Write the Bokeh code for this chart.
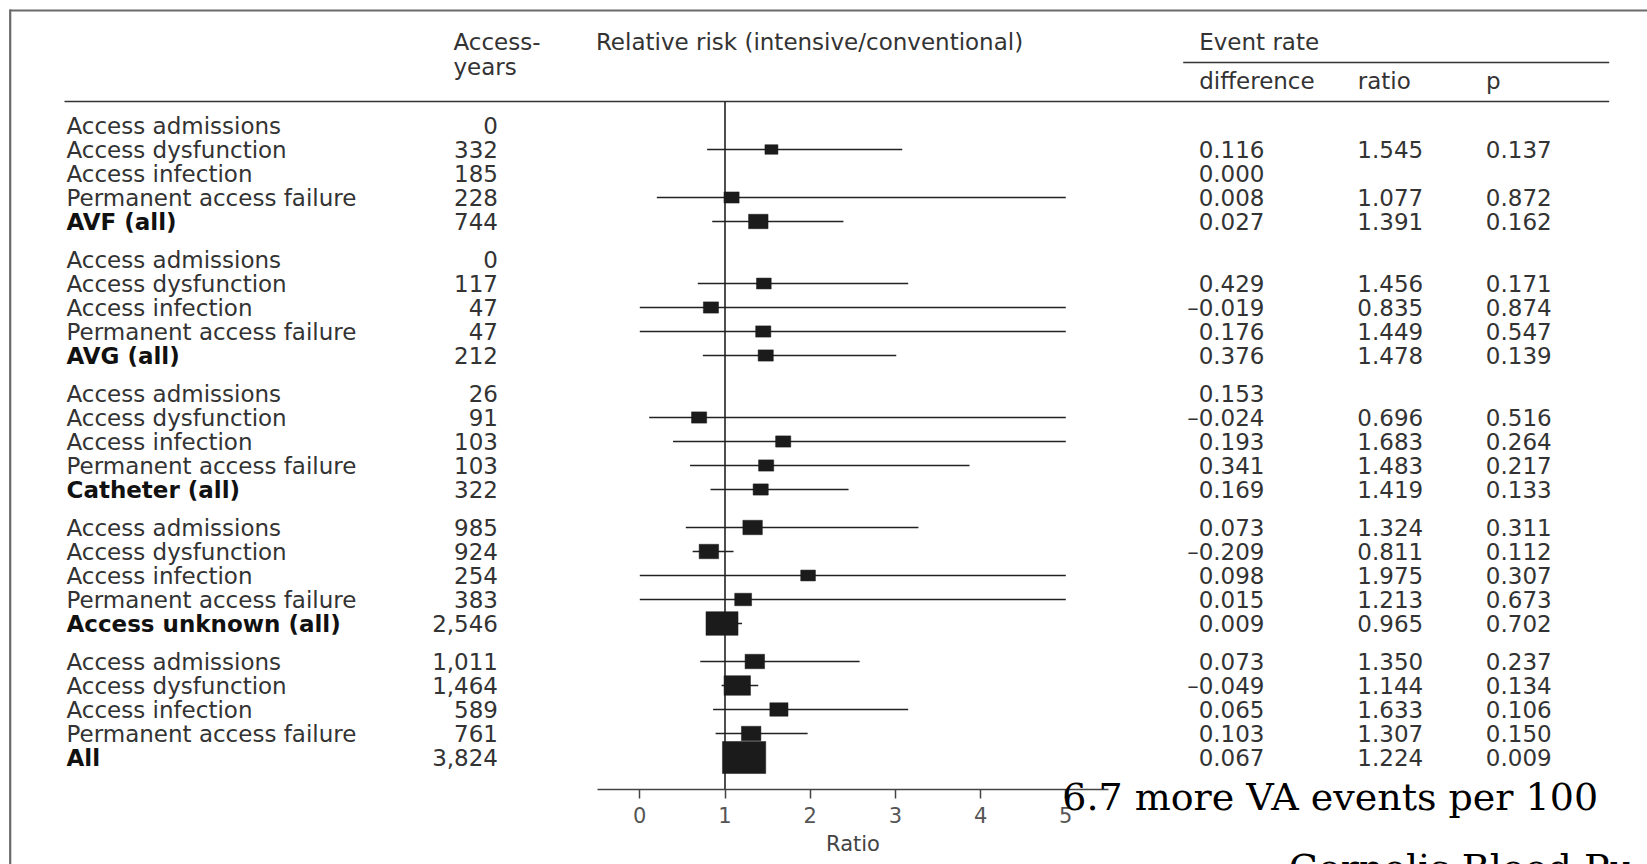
from bokeh.plotting import figure
from bokeh.models import Range1d, LinearAxis, FixedTicker, Label, BoxAnnotation, ColumnDataSource
from bokeh.core.properties import value
from bokeh.embed import file_html
from bokeh.resources import INLINE

# ------------------------------------------------------------------ data
group_names = ["AVF", "AVG", "Catheter", "Access unknown", "All"]
outcome_labels = ["Access admissions", "Access dysfunction", "Access infection",
                  "Permanent access failure"]
summary_labels = ["AVF (all)", "AVG (all)", "Catheter (all)", "Access unknown (all)", "All"]

access_years = ["0", "332", "185", "228", "744",
                "0", "117", "47", "47", "212",
                "26", "91", "103", "103", "322",
                "985", "924", "254", "383", "2,546",
                "1,011", "1,464", "589", "761", "3,824"]
rate_difference = ["", "0.116", "0.000", "0.008", "0.027",
                   "", "0.429", "\u20130.019", "0.176", "0.376",
                   "0.153", "\u20130.024", "0.193", "0.341", "0.169",
                   "0.073", "\u20130.209", "0.098", "0.015", "0.009",
                   "0.073", "\u20130.049", "0.065", "0.103", "0.067"]
rate_ratio = ["", "1.545", "", "1.077", "1.391",
              "", "1.456", "0.835", "1.449", "1.478",
              "", "0.696", "1.683", "1.483", "1.419",
              "1.324", "0.811", "1.975", "1.213", "0.965",
              "1.350", "1.144", "1.633", "1.307", "1.224"]
p_value = ["", "0.137", "", "0.872", "0.162",
           "", "0.171", "0.874", "0.547", "0.139",
           "", "0.516", "0.264", "0.217", "0.133",
           "0.311", "0.112", "0.307", "0.673", "0.702",
           "0.237", "0.134", "0.106", "0.150", "0.009"]
ci_lower = [None, 0.79, None, 0.20, 0.85,
            None, 0.68, 0.0, 0.0, 0.74,
            None, 0.11, 0.39, 0.59, 0.83,
            0.54, 0.62, 0.0, 0.0, 0.78,
            0.71, 0.96, 0.86, 0.89, 1.05]
ci_upper = [None, 3.08, None, 5.0, 2.39,
            None, 3.15, 5.0, 5.0, 3.01,
            None, 5.0, 5.0, 3.87, 2.45,
            3.27, 1.10, 5.0, 5.0, 1.20,
            2.58, 1.39, 3.15, 1.97, 1.43]
weight = [None, 30, None, 35, 45,
          None, 34, 35, 35, 35,
          None, 35, 35, 35, 35,
          45, 45, 34, 39, 74,
          45, 61, 42, 45, 100]
axis_ticks = [0, 1, 2, 3, 4, 5]

# ------------------------------------------------------------------ layout helpers
W, H = 1647, 864
PX_PER_UNIT = 85.2      # screen px per ratio unit
X_ZERO = 639.3          # screen px of ratio 0
ROW_PX = 24.0
ROW0 = 125.0
AXIS_Y = 789.0
GROUP_STRIDE = 134.0 / ROW_PX


def X(px):
    return (px - X_ZERO) / PX_PER_UNIT


def Y(py):
    return (py - ROW0) / ROW_PX


labels, bold, ypos = [], [], []
for g in range(len(group_names)):
    for i in range(5):
        labels.append(outcome_labels[i] if i < 4 else summary_labels[g])
        bold.append(i == 4)
        ypos.append(g * GROUP_STRIDE + i)

p = figure(width=W, height=H, output_backend="svg", toolbar_location=None,
           x_range=Range1d(X(0), X(W)), y_range=Range1d(Y(H), Y(0)),
           x_axis_type=None, y_axis_type=None,
           min_border_left=0, min_border_right=0, min_border_top=0, min_border_bottom=0)
p.outline_line_color = None
p.background_fill_color = "white"
p.border_fill_color = "white"

FONT = "DejaVu Sans"
FS = "23px"
TXT = "#333333"

# borders of the framed picture
p.add_layout(BoxAnnotation(left=X(9), right=X(W + 5), top=Y(9), bottom=Y(11),
                           fill_color="#6a6a6a", fill_alpha=1.0, line_color=None))
p.add_layout(BoxAnnotation(left=X(8.6), right=X(10.8), top=Y(9), bottom=Y(H + 20),
                           fill_color="#6a6a6a", fill_alpha=1.0, line_color=None))

# header rules
p.segment(x0=[X(64), X(1182.7)], x1=[X(1608.7), X(1608.7)],
          y0=[Y(101), Y(62)], y1=[Y(101), Y(62)], line_color="#333333", line_width=1.5)

# header texts
hdr = ColumnDataSource(dict(
    x=[X(452.9), X(452.9), X(595.4), X(1198.7), X(1198.7), X(1357.2), X(1485.6)],
    y=[Y(41.7), Y(66.7), Y(41.2), Y(41.2), Y(80.0), Y(80.0), Y(80.0)],
    t=["Access-", "years", "Relative risk (intensive/conventional)", "Event rate",
       "difference", "ratio", "p"]))
p.text(x="x", y="y", text="t", source=hdr, text_font=value(FONT), text_font_size=FS,
       text_color=TXT, text_align="left", text_baseline="middle")

# null line at ratio 1
p.segment(x0=[1], x1=[1], y0=[Y(101)], y1=[Y(AXIS_Y)], line_color="#222222", line_width=1.6)

# row labels
norm_idx = [k for k in range(len(labels)) if not bold[k]]
bold_idx = [k for k in range(len(labels)) if bold[k]]
p.text(x=[X(66)] * len(norm_idx), y=[ypos[k] for k in norm_idx], text=[labels[k] for k in norm_idx],
       text_font=value(FONT), text_font_size=FS, text_color=TXT,
       text_align="left", text_baseline="middle")
p.text(x=[X(66)] * len(bold_idx), y=[ypos[k] for k in bold_idx], text=[labels[k] for k in bold_idx],
       text_font=value(FONT), text_font_size=FS, text_color="#111111", text_font_style="bold",
       text_align="left", text_baseline="middle")

# numeric columns (right aligned)
for col, right in [(access_years, 497.5), (rate_difference, 1264.0),
                   (rate_ratio, 1422.7), (p_value, 1551.2)]:
    p.text(x=[X(right)] * len(col), y=ypos, text=col, text_font=value(FONT), text_font_size=FS,
           text_color=TXT, text_align="right", text_baseline="middle")

# confidence intervals and point estimates
idx = [k for k in range(len(labels)) if rate_ratio[k] != ""]
est = ColumnDataSource(dict(
    y=[ypos[k] for k in idx],
    lo=[ci_lower[k] for k in idx],
    hi=[ci_upper[k] for k in idx],
    r=[float(rate_ratio[k]) for k in idx],
    w=[weight[k] * 0.433 for k in idx],
    h=[weight[k] * 0.433 * 0.74 for k in idx]))
p.segment(x0="lo", x1="hi", y0="y", y1="y", source=est, line_color="#222222", line_width=1.4)
p.rect(x="r", y="y", width="w", height="h", width_units="screen", height_units="screen",
       source=est, fill_color="#1b1b1b", line_color="#1b1b1b", line_width=0.5)

# x axis, drawn at a fixed location inside the canvas
ax = LinearAxis(ticker=FixedTicker(ticks=axis_ticks), bounds=(-0.5, 5.5), fixed_location=Y(AXIS_Y))
ax.axis_label = "Ratio"
ax.axis_label_text_font = FONT
ax.axis_label_text_font_size = "21px"
ax.axis_label_text_font_style = "normal"
ax.axis_label_text_color = "#444444"
ax.axis_label_standoff = 6
ax.major_label_text_font = FONT
ax.major_label_text_font_size = "21px"
ax.major_label_text_color = "#555555"
ax.major_label_standoff = 8
ax.major_tick_in = 0
ax.major_tick_out = 9
ax.minor_tick_in = 0
ax.minor_tick_out = 0
ax.axis_line_color = "#444444"
ax.axis_line_width = 1.5
ax.major_tick_line_color = "#444444"
ax.major_tick_line_width = 1.5
p.add_layout(ax, "below")

# overlay caption text
p.add_layout(Label(x=X(1061.7), y=Y(796), text="6.7 more VA events per 100",
                   text_font="DejaVu Serif", text_font_size="38px", text_color="black",
                   text_align="left", text_baseline="middle"))
p.add_layout(Label(x=X(1288.3), y=Y(867), text="Cornelis Blood Pu",
                   text_font="DejaVu Serif", text_font_size="38px", text_color="black",
                   text_align="left", text_baseline="middle"))

open("out.html", "w").write(file_html(p, INLINE))
